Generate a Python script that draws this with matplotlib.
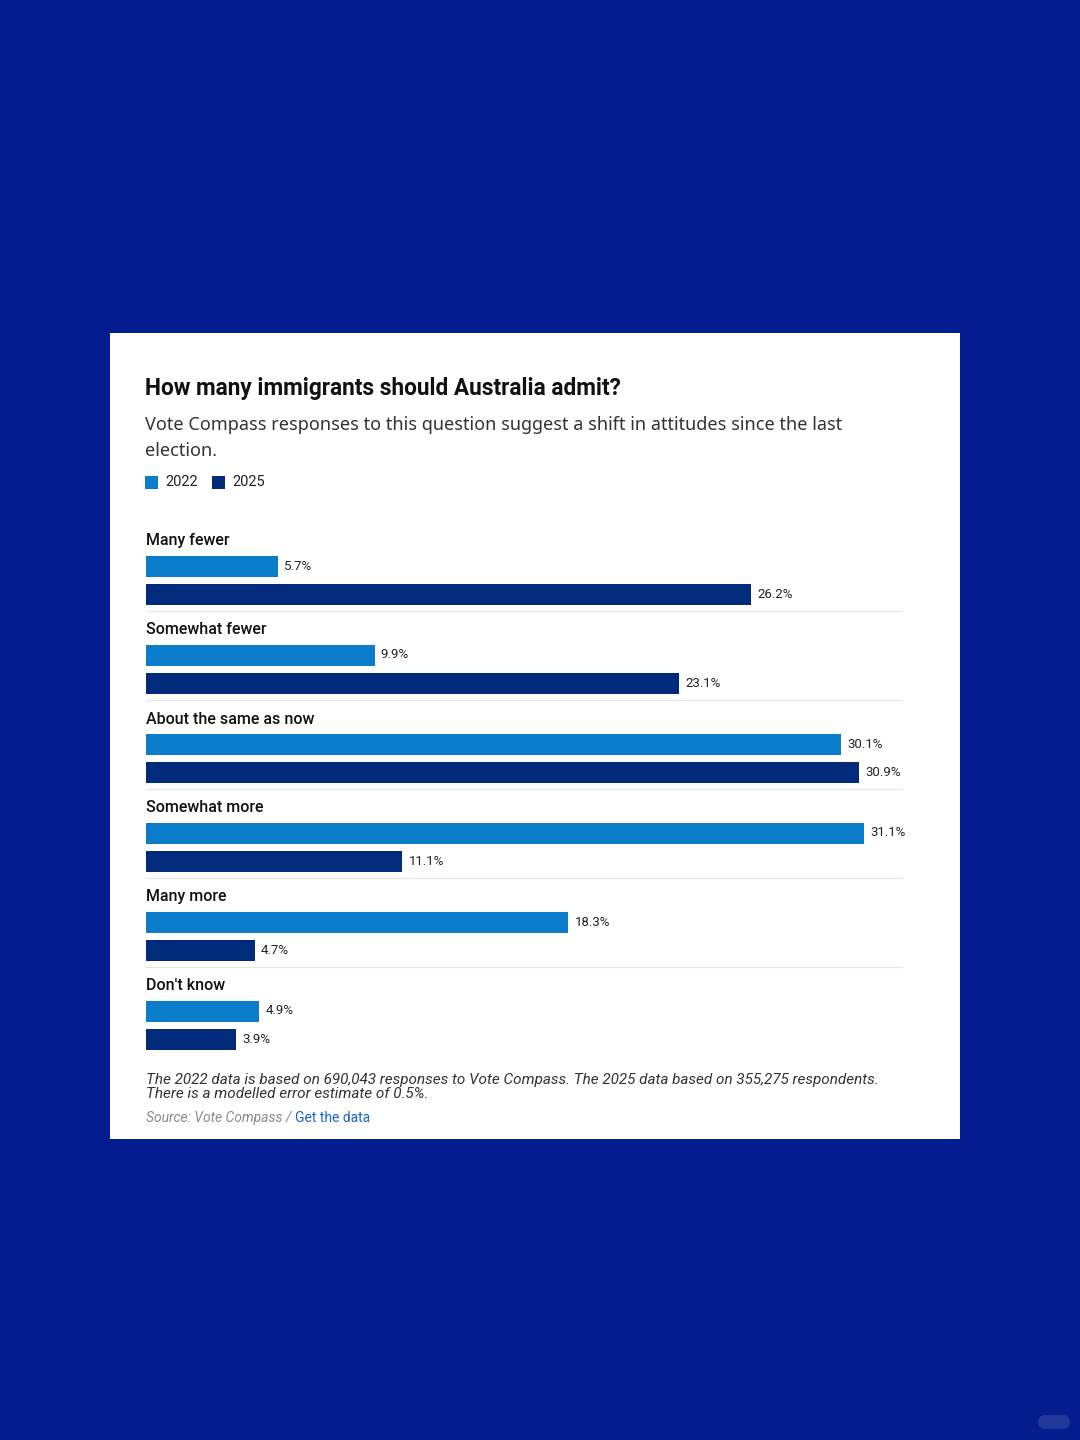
import matplotlib
matplotlib.use("Agg")
import matplotlib.pyplot as plt
from matplotlib.patches import Rectangle, FancyBboxPatch

categories = ["Many fewer", "Somewhat fewer", "About the same as now",
              "Somewhat more", "Many more", "Don't know"]
values_2022 = [5.7, 9.9, 30.1, 31.1, 18.3, 4.9]
values_2025 = [26.2, 23.1, 30.9, 11.1, 4.7, 3.9]
series_labels = ["2022", "2025"]

C_BG = "#041C8D"
C_2022 = "#0A7CC9"
C_2025 = "#012A7B"
C_TEXT = "#111111"

W, H = 1080, 1440
fig = plt.figure(figsize=(W / 100, H / 100), dpi=100)
fig.patch.set_facecolor(C_BG)

def fx(x):
    return x / W

def fy(y):
    return 1 - y / H

# white card
fig.patches.append(Rectangle((fx(110), fy(1139)), (960 - 110) / W, (1139 - 333) / H,
                             transform=fig.transFigure, facecolor="white",
                             edgecolor="none", zorder=-5))

# faint watermark pill, bottom right
fig.patches.append(FancyBboxPatch((fx(1038), fy(1429)), 32 / W, 14 / H,
                                  boxstyle="round,pad=0,rounding_size=0.006",
                                  transform=fig.transFigure, facecolor="white",
                                  alpha=0.12, edgecolor="none"))

fig.text(fx(145), fy(388), "How many immigrants should Australia admit?",
         fontsize=16.3, fontweight="bold", family=["Roboto", "DejaVu Sans"],
         color=C_TEXT, va="center", ha="left")
fig.text(fx(145), fy(425),
         "Vote Compass responses to this question suggest a shift in attitudes since the last",
         fontsize=13, family=["Noto Sans", "DejaVu Sans"], color="#333333",
         va="center", ha="left")
fig.text(fx(145), fy(451), "election.", fontsize=13,
         family=["Noto Sans", "DejaVu Sans"], color="#333333", va="center", ha="left")

# legend
for xs, col, lab in [(145, C_2022, series_labels[0]), (212, C_2025, series_labels[1])]:
    fig.patches.append(Rectangle((fx(xs), fy(489)), 13 / W, 13 / H,
                                 transform=fig.transFigure, facecolor=col,
                                 edgecolor="none"))
    fig.text(fx(xs + 20), fy(482), lab, fontsize=10.5,
             family=["Roboto", "DejaVu Sans"], color="#222222", va="center", ha="left")

# bar axes: data y units == pixels, group pitch 89 px
pitch = 89
ax_left, ax_right = 146, 903
ax_top, ax_bot = 520, 1060
ax = fig.add_axes([fx(ax_left), fy(ax_bot), (ax_right - ax_left) / W, (ax_bot - ax_top) / H])
ax.set_facecolor("none")
ax.set_zorder(2)
px_per_unit = (864 - 146) / 31.1
ax.set_xlim(0, (ax_right - ax_left) / px_per_unit)
base0 = 566
ax.set_ylim(ax_bot - base0, ax_top - base0)
for s in ax.spines.values():
    s.set_visible(False)
ax.set_xticks([])
ax.set_yticks([])

bar_h = 21
n = len(categories)
for i in range(n):
    b = i * pitch
    ax.barh(b, values_2022[i], height=bar_h, color=C_2022, edgecolor="none")
    ax.barh(b + 28.5, values_2025[i], height=bar_h, color=C_2025, edgecolor="none")
    ax.text(0, b - 25, categories[i], fontsize=11.5, fontweight="medium",
            family=["Roboto", "DejaVu Sans"], color=C_TEXT, va="center", ha="left")
    for v, yy in [(values_2022[i], b), (values_2025[i], b + 28.5)]:
        ax.annotate(f"{v:.1f}%", (v, yy), xytext=(4.5, 0), textcoords="offset points",
                    fontsize=9.5, family=["Roboto", "DejaVu Sans"],
                    color="#222222", va="center", ha="left")
    if i < n - 1:
        ax.axhline(b + 45, color="#e6e6e6", linewidth=0.8)

FOOT = ["Roboto", "DejaVu Sans"]
fig.text(fx(146), fy(1080),
         "The 2022 data is based on 690,043 responses to Vote Compass. The 2025 data based on 355,275 respondents.",
         fontsize=11, style="italic", family=FOOT,
         color="#333333", va="center", ha="left")
fig.text(fx(146), fy(1094), "There is a modelled error estimate of 0.5%.",
         fontsize=11, style="italic", family=FOOT,
         color="#333333", va="center", ha="left")
t1 = fig.text(fx(146), fy(1118), "Source: Vote Compass / ", fontsize=10, style="italic",
              family=FOOT, color="#8a8a8a", va="center", ha="left")
fig.canvas.draw()
bb = t1.get_window_extent()
fig.text(bb.x1 / W, fy(1118), "Get the data", fontsize=10,
         family=FOOT, color="#1a63c6", va="center", ha="left")

fig.savefig("out.png", dpi=100, facecolor=C_BG)
